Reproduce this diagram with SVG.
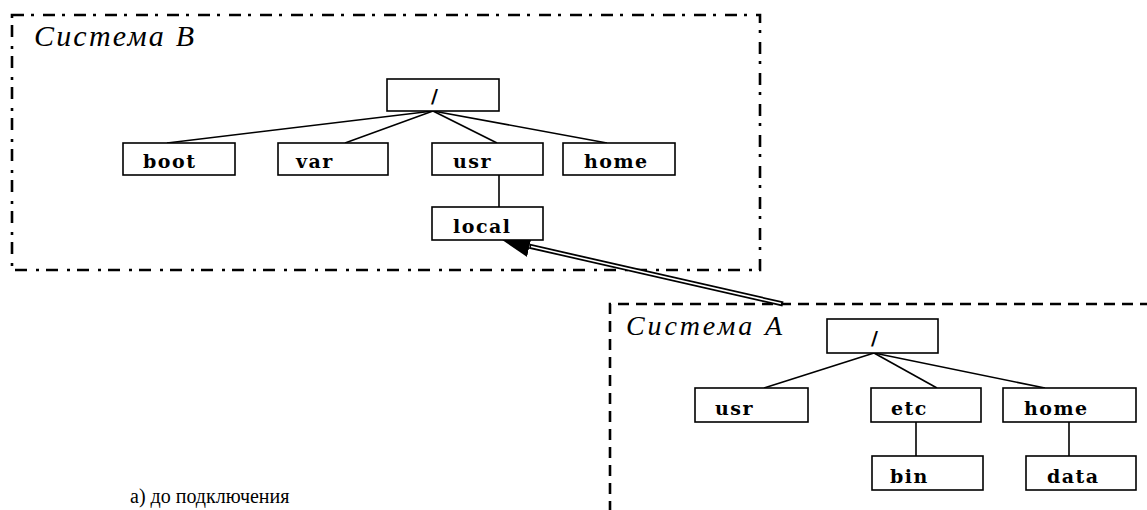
<svg xmlns="http://www.w3.org/2000/svg" width="1147" height="510" viewBox="0 0 1147 510">
  <style>
    .frameB { fill: none; stroke: #000; stroke-width: 2.6; stroke-dasharray: 12 7 3 9; }
    .frameA { fill: none; stroke: #000; stroke-width: 2.6; stroke-dasharray: 11 7; }
    .box { fill: #fff; stroke: #000; stroke-width: 1.6; }
    .lbl { font-family: "DejaVu Serif", "Liberation Serif", serif; font-weight: bold; font-size: 19px; letter-spacing: 1.5px; fill: #000; }
    .title { font-family: "Liberation Serif", "Times New Roman", serif; font-style: italic; fill: #000; }
    .conn { stroke: #000; stroke-width: 1.6; fill: none; }
    .caption { font-family: "Liberation Serif", "Times New Roman", serif; font-size: 20px; fill: #000; }
  </style>
  <defs>
    <marker id="head" markerUnits="userSpaceOnUse" markerWidth="30" markerHeight="24" refX="0" refY="11" orient="auto">
      <path d="M0,0 L28,11 L0,22 Z" fill="#000"/>
    </marker>
  </defs>
  <rect width="1147" height="510" fill="#fff"/>

  <g id="systemB-frame">
    <rect class="frameB" x="12" y="15" width="748" height="255"/>
    <text class="title" x="34" y="46" font-size="30" textLength="160" lengthAdjust="spacing">Система B</text>
  </g>
  <g id="systemA-frame">
    <path class="frameA" d="M610,512 L610,304 L1150,304"/>
    <text class="title" x="626" y="335" font-size="28" textLength="156" lengthAdjust="spacing">Система A</text>
  </g>

  <g id="connectors">
    <line class="conn" x1="433" y1="111" x2="167" y2="143"/>
    <line class="conn" x1="433" y1="111" x2="345" y2="143"/>
    <line class="conn" x1="433" y1="111" x2="497" y2="143"/>
    <line class="conn" x1="433" y1="111" x2="607" y2="143"/>
    <line class="conn" x1="499" y1="175" x2="499" y2="207"/>
    <line class="conn" x1="874" y1="353" x2="764" y2="388"/>
    <line class="conn" x1="874" y1="353" x2="937" y2="388"/>
    <line class="conn" x1="874" y1="353" x2="1045" y2="388"/>
    <line class="conn" x1="916" y1="422" x2="916" y2="456"/>
    <line class="conn" x1="1069" y1="422" x2="1069" y2="456"/>
    <g id="mount-arrow">
      <line x1="783" y1="304" x2="529.5" y2="246.2" stroke="#000" stroke-width="5" marker-end="url(#head)"/>
      <line x1="781" y1="303.5" x2="531" y2="246.6" stroke="#fff" stroke-width="1.5"/>
    </g>
  </g>

  <g id="B-root"><rect class="box" x="387" y="79" width="112" height="32"/><text class="lbl" x="431" y="103">/</text></g>
  <g id="B-boot"><rect class="box" x="123" y="143" width="112" height="32"/><text class="lbl" x="143" y="168">boot</text></g>
  <g id="B-var"><rect class="box" x="278" y="143" width="110" height="32"/><text class="lbl" x="296" y="168">var</text></g>
  <g id="B-usr"><rect class="box" x="432" y="143" width="111" height="32"/><text class="lbl" x="453" y="168">usr</text></g>
  <g id="B-home"><rect class="box" x="563" y="143" width="112" height="32"/><text class="lbl" x="584" y="168">home</text></g>
  <g id="B-local"><rect class="box" x="432" y="207" width="111" height="33"/><text class="lbl" x="453" y="233">local</text></g>

  <g id="A-root"><rect class="box" x="827" y="319" width="111" height="34"/><text class="lbl" x="871" y="345">/</text></g>
  <g id="A-usr"><rect class="box" x="695" y="388" width="113" height="34"/><text class="lbl" x="715" y="415">usr</text></g>
  <g id="A-etc"><rect class="box" x="871" y="388" width="110" height="34"/><text class="lbl" x="891" y="415">etc</text></g>
  <g id="A-home"><rect class="box" x="1003" y="388" width="133" height="34"/><text class="lbl" x="1024" y="415">home</text></g>
  <g id="A-bin"><rect class="box" x="872" y="456" width="111" height="34"/><text class="lbl" x="890" y="483">bin</text></g>
  <g id="A-data"><rect class="box" x="1026" y="456" width="110" height="34"/><text class="lbl" x="1047" y="483">data</text></g>

  <g id="caption">
    <text class="caption" x="130" y="503">а) до подключения</text>
  </g>
</svg>
